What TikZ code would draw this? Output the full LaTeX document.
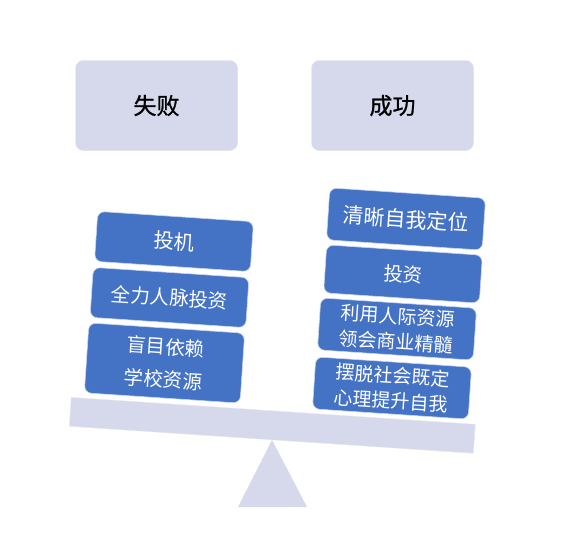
\documentclass[tikz,border=0pt]{standalone}
\usepackage{fontspec}
\setmainfont{Noto Sans CJK SC}
\newfontfamily\headfont[FakeBold=0.9]{Noto Sans CJK SC}
\definecolor{lav}{HTML}{D5D9EB}
\definecolor{bblue}{HTML}{4472C4}
\tikzset{
  head/.style={fill=lav, draw=lav!80!white, rounded corners=8pt, minimum width=162pt, minimum height=90pt, font=\headfont\fontsize{23}{27}\selectfont, text=black},
  item/.style={fill=bblue, draw=white!70!bblue, line width=0.6pt, rounded corners=7pt, minimum width=156pt, text=white, rotate=-3.8, align=center, inner sep=0pt},
}
\begin{document}
\begin{tikzpicture}[x=1pt,y=-1pt]
\useasboundingbox (0,0) rectangle (565,542);
% headers
\node[head] (fail) at (156.5,105.5) {失败};
\node[head] (succ) at (392.5,105.5) {成功};
% beam
\node[fill=lav, draw=lav!60!white, minimum width=405pt, minimum height=29pt, rotate=-3.82, inner sep=0pt] (beam) at (272.3,425.3) {};
% fulcrum
\fill[lav] (272,440) -- (238,507) -- (307,507) -- cycle;
% left items
\node[item, minimum height=50pt, font=\fontsize{20.5}{24}\selectfont] (l1) at (174,241.5) {投机};
\node[item, minimum height=50pt, font=\fontsize{19.5}{24}\selectfont] (l2) at (169.5,297.5) {全力人脉投资};
\node[item, minimum height=70pt, font=\fontsize{19.5}{33}\selectfont] (l3) at (164.5,363) {盲目依赖\\学校资源};
% right items
\node[item, minimum height=52pt, font=\fontsize{21}{25}\selectfont] (r1) at (406,219) {清晰自我定位};
\node[item, minimum height=48pt, font=\fontsize{19.5}{24}\selectfont] (r2) at (403,274) {投资};
\node[item, minimum height=52pt, font=\fontsize{19}{25.5}\selectfont] (r3) at (397,329) {利用人际资源\\领会商业精髓};
\node[item, minimum height=52pt, font=\fontsize{19}{25.5}\selectfont] (r4) at (392,388) {摆脱社会既定\\心理提升自我};
\end{tikzpicture}
\end{document}
